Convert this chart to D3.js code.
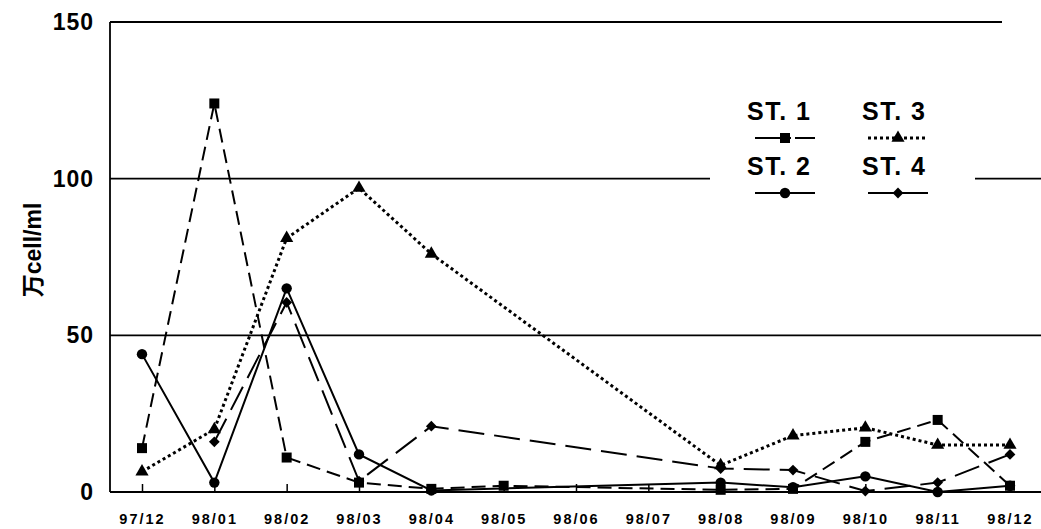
<!DOCTYPE html>
<html>
<head>
<meta charset="utf-8">
<script src="https://cdn.jsdelivr.net/npm/d3@7"></script>
<style>
  body { margin: 0; background: #fff; }
  svg { display: block; font-family: "Liberation Sans", Arial, "Noto Sans CJK JP", sans-serif; }
</style>
</head>
<body>
<div class="chart"></div>
<script>
'use strict'

const width = 1041;
const height = 529;

/* months on the x axis */
const months = ['97/12', '98/01', '98/02', '98/03', '98/04', '98/05', '98/06',
                '98/07', '98/08', '98/09', '98/10', '98/11', '98/12'];

/* 万cell/ml per station, null = not sampled */
const st1 = [14, 124, 11, 3, 1, 2, null, null, 0.7, 1, 16, 23, 2];
const st2 = [44, 3, 65, 12, 0.5, null, null, null, 3, 1.5, 5, 0, 2];
const st3 = [6.5, 20, 81, 97, 76, null, null, null, 8.5, 18, 20.5, 15, 15];
const st4 = [null, 16, 60.5, 3.5, 21, null, null, null, 7.5, 7, 0.3, 3, 12];

const yTicks = [0, 50, 100, 150];

const series = [
    { name: 'ST. 1', values: st1, dash: '14,7', symbol: d3.symbolSquare, size: 100, rot: 0 },
    { name: 'ST. 2', values: st2, dash: null, symbol: d3.symbolCircle, size: 85, rot: 0 },
    { name: 'ST. 3', values: st3, dash: '3,3', symbol: d3.symbolTriangle, size: 75, rot: 0 },
    { name: 'ST. 4', values: st4, dash: '26,10', symbol: d3.symbolSquare, size: 58, rot: 45 }
];

const plotLeft = 110, plotRight = 1041, plotTop = 22, plotBottom = 492;

const xScale = d3.scalePoint()
                 .domain(months)
                 .range([142, 1010]);

const yScale = d3.scaleLinear()
                 .domain([0, 150])
                 .range([plotBottom, plotTop]);

const svg = d3.select('.chart')
              .append('svg')
              .attr('width', width)
              .attr('height', height);

/* frame + grid */
svg.append('line')
   .attr('x1', plotLeft).attr('x2', plotLeft)
   .attr('y1', plotTop).attr('y2', plotBottom)
   .attr('stroke', '#000').attr('stroke-width', 1.8);

svg.selectAll('.grid')
   .data(yTicks)
   .enter()
   .append('line')
   .attr('class', 'grid')
   .attr('x1', plotLeft)
   .attr('x2', d => d === 150 ? 1002 : plotRight)
   .attr('y1', d => yScale(d))
   .attr('y2', d => yScale(d))
   .attr('stroke', '#000')
   .attr('stroke-width', 1.8);

/* y axis labels */
const yAxis = d3.axisLeft(yScale).tickValues(yTicks).tickSize(0).tickPadding(16);
const gy = svg.append('g')
              .attr('transform', 'translate(' + plotLeft + ',0)')
              .call(yAxis);
gy.select('.domain').remove();
gy.selectAll('text')
  .style('font-size', '23px')
  .style('font-weight', 'bold')
  .style('letter-spacing', '1px')
  .attr('fill', '#000');

/* x axis: inner ticks + labels */
const xAxis = d3.axisBottom(xScale).tickSize(-8).tickPadding(22);
const gx = svg.append('g')
              .attr('transform', 'translate(0,' + plotBottom + ')')
              .call(xAxis);
gx.select('.domain').remove();
gx.selectAll('.tick line').attr('stroke', '#000').attr('stroke-width', 1.5);
gx.selectAll('text')
  .style('font-size', '14.5px')
  .style('font-weight', 'bold')
  .style('letter-spacing', '2px')
  .attr('fill', '#000');

svg.append('text')
   .attr('transform', 'translate(41,250) rotate(-90)')
   .attr('text-anchor', 'middle')
   .attr('fill', '#000')
   .style('font-size', '23px')
   .style('font-weight', 'bold')
   .text('万cell/ml');

/* lines */
const line = d3.line()
               .x(d => xScale(d.m))
               .y(d => yScale(d.v));

series.forEach(s => {
    const pts = months.map((m, i) => ({ m: m, v: s.values[i] })).filter(d => d.v !== null);

    svg.append('path')
       .datum(pts)
       .attr('d', line)
       .attr('fill', 'none')
       .attr('stroke', '#000')
       .attr('stroke-width', s.dash === '3,3' ? 3 : 2)
       .attr('stroke-dasharray', s.dash);

    svg.selectAll('.m' + s.name.slice(-1))
       .data(pts)
       .enter()
       .append('path')
       .attr('class', 'm' + s.name.slice(-1))
       .attr('transform', d => 'translate(' + xScale(d.m) + ',' + yScale(d.v) + ') rotate(' + s.rot + ')')
       .attr('d', d3.symbol().type(s.symbol).size(s.size))
       .attr('fill', '#000');
});

/* legend */
const legend = svg.append('g');
legend.append('rect')
      .attr('x', 710).attr('y', 95)
      .attr('width', 265).attr('height', 110)
      .attr('fill', '#fff');

const legPos = [[747, 120, 785], [747, 175, 785], [862, 120, 898], [862, 175, 898]];

series.forEach((s, i) => {
    const p = legPos[i];
    legend.append('text')
          .attr('x', p[0]).attr('y', p[1])
          .style('font-size', '25px')
          .style('font-weight', 'bold')
          .style('letter-spacing', '1.5px')
          .text(s.name);
    legend.append('line')
          .attr('x1', p[2] - 30).attr('x2', p[2] + 30)
          .attr('y1', p[1] + 18).attr('y2', p[1] + 18)
          .attr('stroke', '#000')
          .attr('stroke-width', s.dash === '3,3' ? 3 : 2)
          .attr('stroke-dasharray', i === 0 ? '30,4,2,4' : (s.dash === '3,3' ? '3,3' : null));
    legend.append('path')
          .attr('transform', 'translate(' + p[2] + ',' + (p[1] + 18) + ') rotate(' + s.rot + ')')
          .attr('d', d3.symbol().type(s.symbol).size(s.size))
          .attr('fill', '#000');
});
</script>
</body>
</html>
